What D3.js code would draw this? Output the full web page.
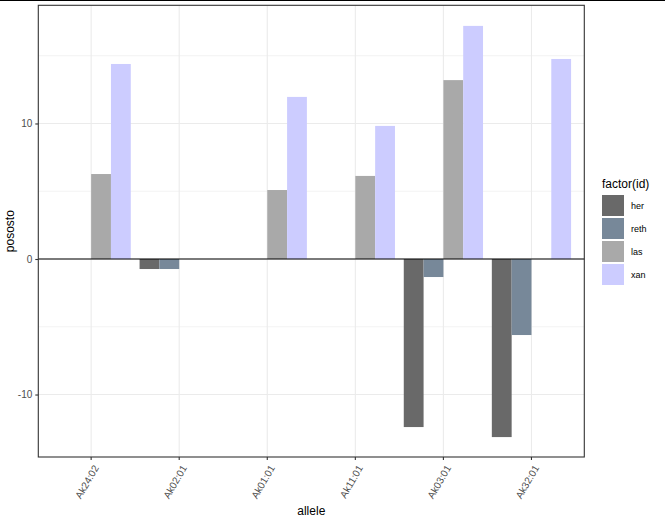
<!DOCTYPE html>
<html>
<head>
<meta charset="utf-8">
<script src="https://cdn.jsdelivr.net/npm/d3@7"></script>
<style>
  body { margin: 0; background: #fff; }
  text { font-family: "Liberation Sans", Arial, sans-serif; }
</style>
</head>
<body>
<div id="chart"></div>
<script>
// Data
const alleles = ["Ak24:02", "Ak02:01", "Ak01:01", "Ak11:01", "Ak03:01", "Ak32:01"];
const ids = ["her", "reth", "las", "xan"];
const idColors = ["#696969", "#778899", "#A9A9A9", "#CCCCFF"];
const herValues  = [null, -0.74, null, null, -12.4, -13.14];
const rethValues = [null, -0.74, null, null, -1.33, -5.61];
const lasValues  = [6.27, null, 5.09, 6.13, 13.2, null];
const xanValues  = [14.39, null, 11.96, 9.82, 17.2, 14.76];
const yTicks = [-10, 0, 10];
const yMinor = [-15, -5, 5, 15];

const seriesValues = [herValues, rethValues, lasValues, xanValues];

const width = 665;
const height = 522;
const panel = { left: 38.3, right: 584.3, top: 5.3, bottom: 457 };

const svg = d3.select("#chart")
  .append("svg")
  .attr("width", width)
  .attr("height", height);

// stray line at the very top of the image
svg.append("line")
  .attr("x1", 0).attr("x2", width)
  .attr("y1", 0.5).attr("y2", 0.5)
  .attr("stroke", "#000")
  .attr("stroke-width", 1);

// Scales
const x = d3.scaleBand()
  .domain(alleles)
  .range([panel.left, panel.right])
  .paddingInner(0.1)
  .paddingOuter(0.15);

const y = d3.scaleLinear()
  .domain([-14.61, 18.72])
  .range([panel.bottom, panel.top]);

const xSub = d3.scaleBand()
  .domain(ids)
  .range([0, x.bandwidth()]);

const color = d3.scaleOrdinal().domain(ids).range(idColors);

// Grid
const grid = svg.append("g");
grid.selectAll(".minor")
  .data(yMinor.filter(v => y(v) > panel.top && y(v) < panel.bottom))
  .join("line")
  .attr("x1", panel.left).attr("x2", panel.right)
  .attr("y1", d => y(d)).attr("y2", d => y(d))
  .attr("stroke", "#EBEBEB").attr("stroke-width", 0.6);
grid.selectAll(".majory")
  .data(yTicks)
  .join("line")
  .attr("x1", panel.left).attr("x2", panel.right)
  .attr("y1", d => y(d)).attr("y2", d => y(d))
  .attr("stroke", "#EBEBEB").attr("stroke-width", 1.1);
grid.selectAll(".majorx")
  .data(alleles)
  .join("line")
  .attr("x1", d => x(d) + x.bandwidth() / 2).attr("x2", d => x(d) + x.bandwidth() / 2)
  .attr("y1", panel.top).attr("y2", panel.bottom)
  .attr("stroke", "#EBEBEB").attr("stroke-width", 1.1);

// Bars
const bars = [];
ids.forEach((id, i) => {
  seriesValues[i].forEach((v, j) => {
    if (v !== null) bars.push({ allele: alleles[j], id: id, value: v });
  });
});

svg.append("g")
  .selectAll("rect")
  .data(bars)
  .join("rect")
  .attr("x", d => x(d.allele) + xSub(d.id))
  .attr("width", xSub.bandwidth())
  .attr("y", d => y(Math.max(0, d.value)))
  .attr("height", d => Math.abs(y(d.value) - y(0)))
  .attr("fill", d => color(d.id));

// zero line
svg.append("line")
  .attr("x1", panel.left).attr("x2", panel.right)
  .attr("y1", y(0)).attr("y2", y(0))
  .attr("stroke", "#000").attr("stroke-width", 1.1);

// Panel border
svg.append("rect")
  .attr("x", panel.left).attr("y", panel.top)
  .attr("width", panel.right - panel.left)
  .attr("height", panel.bottom - panel.top)
  .attr("fill", "none")
  .attr("stroke", "#333333")
  .attr("stroke-width", 1.1);

// Axes
const yAxis = svg.append("g")
  .attr("transform", `translate(${panel.left},0)`)
  .call(d3.axisLeft(y).tickValues(yTicks).tickFormat(d => String(d)).tickSize(3).tickPadding(3));
yAxis.select(".domain").remove();
yAxis.selectAll("line").attr("stroke", "#333333").attr("stroke-width", 1.1);
yAxis.selectAll("text").attr("fill", "#4D4D4D").style("font-size", "10px")
  .style("font-family", "'Liberation Sans', Arial, sans-serif");

const xAxis = svg.append("g")
  .attr("transform", `translate(0,${panel.bottom})`)
  .call(d3.axisBottom(x).tickSize(3));
xAxis.select(".domain").remove();
xAxis.selectAll("line").attr("stroke", "#333333").attr("stroke-width", 1.1);
xAxis.selectAll("text")
  .attr("fill", "#4D4D4D")
  .style("font-size", "10px")
  .style("font-family", "'Liberation Sans', Arial, sans-serif")
  .attr("text-anchor", "end")
  .attr("dy", "0.35em")
  .attr("transform", "translate(5,9) rotate(-60)")
  .attr("y", 0)
  .attr("x", 0);

// Axis titles
svg.append("text")
  .attr("x", (panel.left + panel.right) / 2)
  .attr("y", 515)
  .attr("text-anchor", "middle")
  .style("font-size", "12px")
  .text("allele");

svg.append("text")
  .attr("transform", "rotate(-90)")
  .attr("x", -(panel.top + panel.bottom) / 2)
  .attr("y", 14)
  .attr("text-anchor", "middle")
  .style("font-size", "12px")
  .text("pososto");

// Legend
const legend = svg.append("g").attr("transform", "translate(602,0)");
legend.append("text")
  .attr("x", 0).attr("y", 188)
  .style("font-size", "12px")
  .text("factor(id)");
const keys = legend.selectAll(".key")
  .data(ids)
  .join("g")
  .attr("transform", (d, i) => `translate(0,${195 + i * 23})`);
keys.append("rect")
  .attr("width", 22).attr("height", 21)
  .attr("fill", d => color(d));
keys.append("text")
  .attr("x", 29).attr("y", 10.5)
  .attr("dy", "0.35em")
  .style("font-size", "9px")
  .text(d => d);
</script>
</body>
</html>
